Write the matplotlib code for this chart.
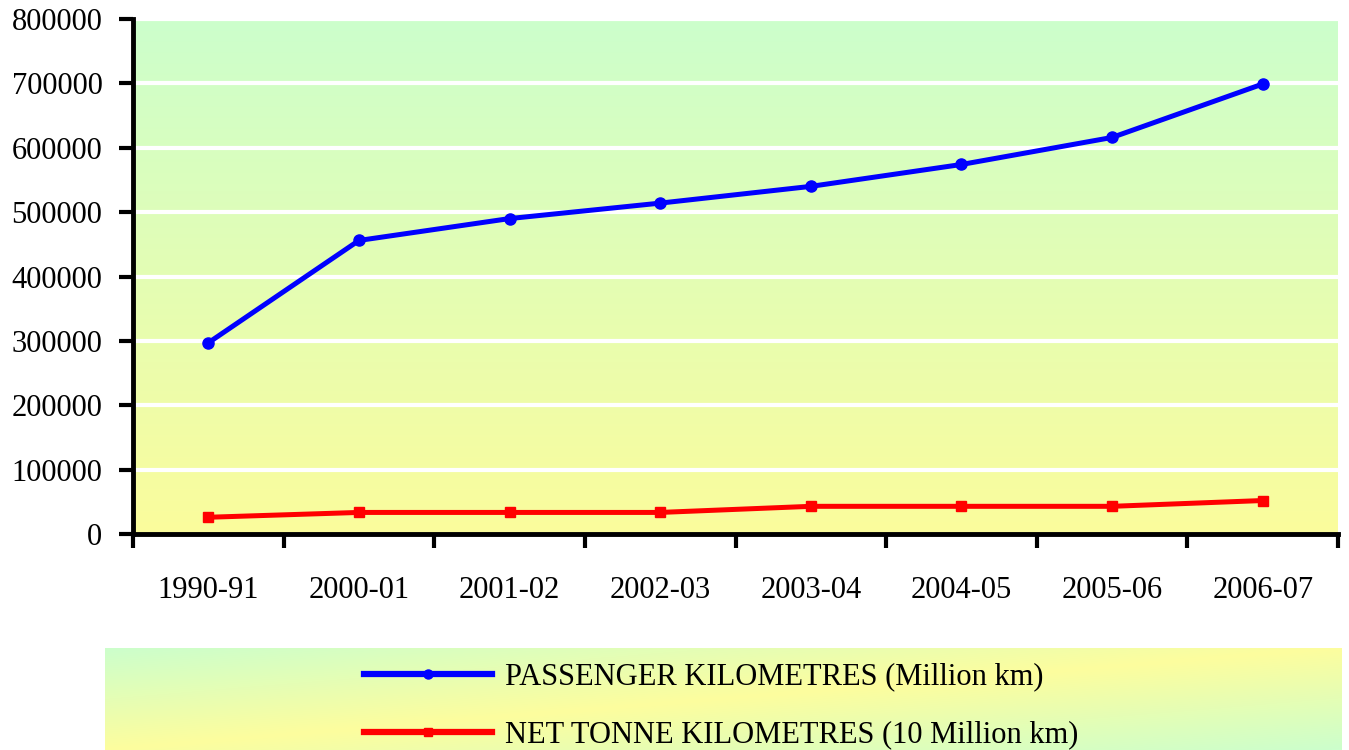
import matplotlib
matplotlib.use("Agg")
import matplotlib.pyplot as plt
from matplotlib.lines import Line2D
from matplotlib.colors import LinearSegmentedColormap
import numpy as np

# data
years = ["1990-91", "2000-01", "2001-02", "2002-03", "2003-04",
         "2004-05", "2005-06", "2006-07"]
passenger_km = [297000, 456000, 490000, 514000, 540000, 574000, 616000, 699000]
tonne_km = [26000, 33500, 33500, 33500, 43000, 43000, 43000, 52000]

yticks = np.arange(0, 800001, 100000)

plt.rcParams['font.family'] = ['Liberation Serif', 'DejaVu Serif']

fig = plt.figure(figsize=(13.49, 7.5), dpi=100)
ax = fig.add_axes([133/1349, 1 - 534/750, (1338 - 133)/1349, (534 - 19)/750])

# gradient plot area: green at top, pale yellow at bottom
grad = LinearSegmentedColormap.from_list("bg", ["#fbfc9c", "#ccffcc"])
g = np.linspace(0, 1, 256).reshape(-1, 1)
ax.imshow(g, cmap=grad, aspect="auto", origin="lower",
          extent=[0, 1, 0, 1], transform=ax.transAxes, zorder=0)

x = np.arange(len(years))
ax.set_xlim(-0.5, len(years) - 0.5)
ax.set_ylim(0, 800000)

for v in yticks[1:]:
    ax.axhline(v, color="white", lw=3, zorder=1)

ax.plot(x, passenger_km, color="#0000ff", lw=3.6, marker="o", ms=8,
        solid_capstyle="round", zorder=3, clip_on=False)
ax.plot(x, tonne_km, color="#ff0000", lw=3.6, marker="s", ms=6.5,
        solid_capstyle="round", zorder=3, clip_on=False)

ax.set_yticks(yticks)
ax.set_yticklabels([str(v) for v in yticks], fontsize=22)
ax.set_xticks(np.arange(len(years) + 1) - 0.5)
ax.set_xticklabels([])
ax.set_xticks(x, minor=True)
ax.set_xticklabels(years, minor=True, fontsize=22)
ax.tick_params(axis="x", which="minor", length=0, pad=30)
ax.tick_params(axis="x", which="major", length=10, width=3, direction="out")
ax.tick_params(axis="y", length=10, width=3, direction="out", pad=12)

for s in ["top", "right"]:
    ax.spines[s].set_visible(False)
for s in ["left", "bottom"]:
    ax.spines[s].set_linewidth(3.5)
    ax.spines[s].set_zorder(4)

# legend box with diagonal gradient (green corners top-left / bottom-right)
lax = fig.add_axes([105/1349, 0, (1342 - 105)/1349, (750 - 648)/750])
lg = LinearSegmentedColormap.from_list("lg", ["#ccffcc", "#fdfd9e", "#ccffcc"])
xx, yy = np.meshgrid(np.linspace(0, 1, 300), np.linspace(0, 1, 100))
lax.imshow((xx + yy) / 2, cmap=lg, aspect="auto", origin="upper",
           extent=[0, 1, 0, 1], vmin=0, vmax=1)
lax.set_axis_off()

handles = [
    Line2D([], [], color="#0000ff", lw=4.5, marker="o", ms=6.5),
    Line2D([], [], color="#ff0000", lw=4.5, marker="s", ms=6),
]
labels = ["PASSENGER KILOMETRES (Million km)",
          "NET TONNE KILOMETRES (10 Million km)"]
fig.legend(handles, labels, loc="center left",
           bbox_to_anchor=(364/1349, 1 - 706/750), frameon=False,
           fontsize=22, handlelength=4.2, handletextpad=0.4,
           labelspacing=0.95, borderpad=0, borderaxespad=0)

fig.savefig("out.png", dpi=100)
